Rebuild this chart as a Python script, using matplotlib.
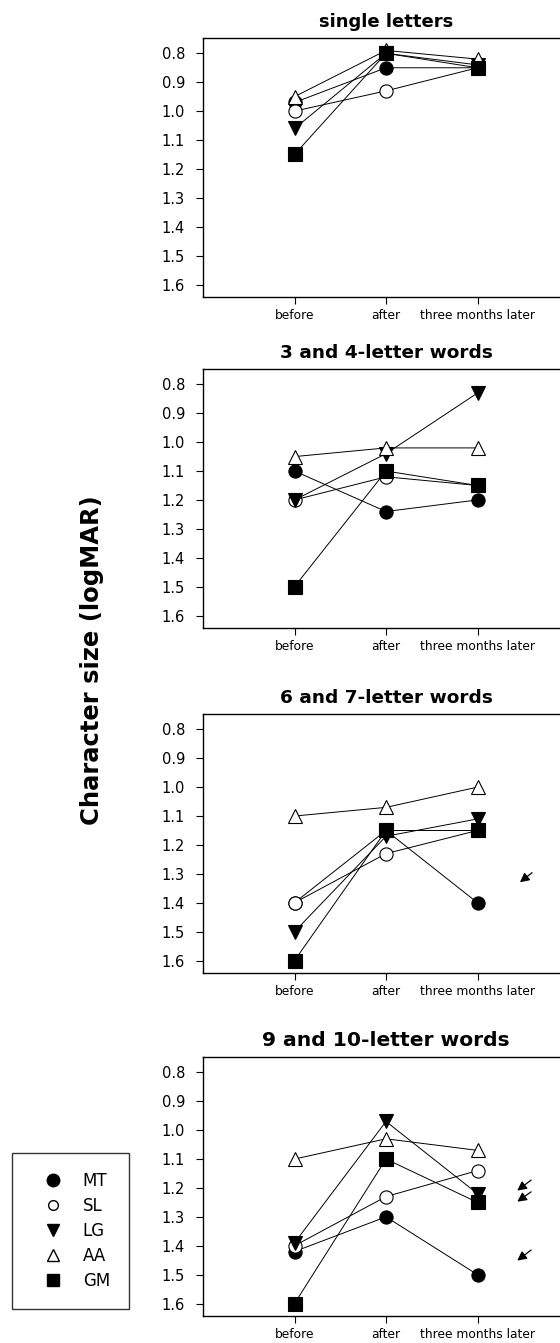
import numpy as np
import matplotlib as mpl
mpl.use("Agg")
import matplotlib.pyplot as plt
from matplotlib.lines import Line2D

# visits and subjects
sessions = ["before", "after", "three months later"]
subjects = ["MT", "SL", "LG", "AA", "GM"]
panel_titles = ["single letters", "3 and 4-letter words",
                "6 and 7-letter words", "9 and 10-letter words"]

# logMAR values, one list per subject: before, after, three months later
single_letters = {
    "MT": [0.97, 0.85, 0.85],
    "SL": [1.00, 0.93, 0.85],
    "LG": [1.06, 0.80, 0.84],
    "AA": [0.95, 0.79, 0.82],
    "GM": [1.15, 0.80, 0.85],
}
words_3_4 = {
    "MT": [1.10, 1.24, 1.20],
    "SL": [1.20, 1.12, 1.15],
    "LG": [1.20, 1.04, 0.83],
    "AA": [1.05, 1.02, 1.02],
    "GM": [1.50, 1.10, 1.15],
}
words_6_7 = {
    "MT": [1.40, 1.15, 1.40],
    "SL": [1.40, 1.23, 1.15],
    "LG": [1.50, 1.17, 1.11],
    "AA": [1.10, 1.07, 1.00],
    "GM": [1.60, 1.15, 1.15],
}
words_9_10 = {
    "MT": [1.42, 1.30, 1.50],
    "SL": [1.40, 1.23, 1.14],
    "LG": [1.39, 0.97, 1.22],
    "AA": [1.10, 1.03, 1.07],
    "GM": [1.60, 1.10, 1.25],
}
panels = [single_letters, words_3_4, words_6_7, words_9_10]

yticks = [0.8, 0.9, 1.0, 1.1, 1.2, 1.3, 1.4, 1.5, 1.6]

styles = {
    "MT": dict(marker="o", mfc="black"),
    "SL": dict(marker="o", mfc="white"),
    "LG": dict(marker="v", mfc="black"),
    "AA": dict(marker="^", mfc="white"),
    "GM": dict(marker="s", mfc="black"),
}
legend_ms = {"MT": 9, "SL": 7, "LG": 9, "AA": 9, "GM": 8}

W, H = 560, 1343
fig = plt.figure(figsize=(W / 100, H / 100), dpi=100)

# axes boxes in pixels: left, bottom edge (from top), width, height
left_px, width_px, height_px = 203, 366, 259
bottoms_px = [297, 628, 973, 1316]
title_sizes = [13, 13.3, 13.3, 14.6]

# small arrows on the right of the lower two panels (x0, y0, x1, y1 in data units)
arrows = {
    2: [(3.62, 1.29, 3.44, 1.335)],
    3: [(3.61, 1.167, 3.41, 1.215),
        (3.61, 1.208, 3.41, 1.253),
        (3.61, 1.409, 3.41, 1.457)],
}

xs = np.arange(1, len(sessions) + 1)

for i, data in enumerate(panels):
    ax = fig.add_axes([left_px / W, 1 - bottoms_px[i] / H, width_px / W, height_px / H])
    for s in subjects:
        ax.plot(xs, data[s], color="black", lw=0.7, zorder=2)
    for s in subjects:
        ax.plot(xs, data[s], ls="none", mec="black", mew=0.8, ms=9.5,
                zorder=3, clip_on=False, **styles[s])
    ax.set_xlim(0, 4)
    ax.set_ylim(1.643, 0.747)
    ax.set_yticks(yticks)
    ax.set_yticklabels([f"{v:.1f}" for v in yticks], fontsize=10.5)
    ax.set_xticks(xs)
    ax.set_xticklabels(sessions, fontsize=8.8)
    ax.tick_params(direction="out", length=5, width=0.8, color="black")
    ax.tick_params(axis="y", pad=8)
    ax.tick_params(axis="x", pad=3.5)
    for sp in ax.spines.values():
        sp.set_linewidth(1.0)
    ax.set_title(panel_titles[i], fontsize=title_sizes[i], fontweight="bold", pad=8)
    for x0, y0, x1, y1 in arrows.get(i, []):
        ax.annotate("", xy=(x1, y1), xytext=(x0, y0),
                    arrowprops=dict(arrowstyle="-|>,head_length=0.55,head_width=0.28",
                                    color="black", lw=0.9))

fig.text(92 / W, 1 - 660 / H, "Character size (logMAR)", rotation=90,
         fontsize=17.5, fontweight="bold", ha="center", va="center")

handles = [Line2D([], [], ls="none", color="black", mec="black", ms=legend_ms[s], **styles[s])
           for s in subjects]
leg = fig.legend(handles, subjects, loc="upper left",
                 bbox_to_anchor=(12 / W, 1 - 1153 / H), fontsize=12,
                 frameon=True, fancybox=False, edgecolor="black",
                 borderpad=1.15, labelspacing=0.42, handlelength=2.6,
                 handletextpad=0.5, borderaxespad=0)
leg.get_frame().set_linewidth(1.0)

fig.savefig("out.png", dpi=100)
